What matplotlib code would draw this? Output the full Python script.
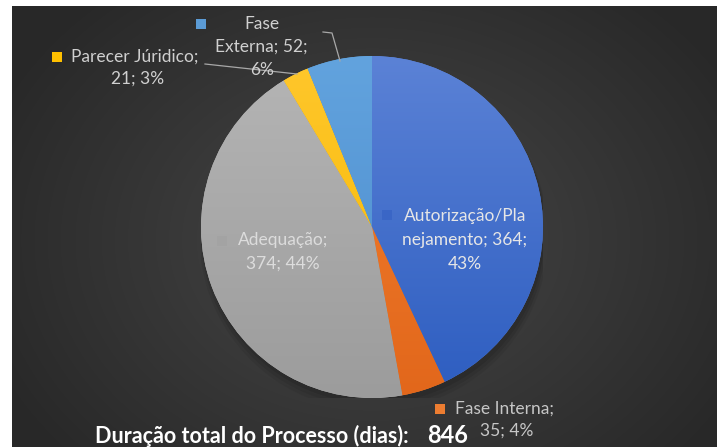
import numpy as np
import matplotlib.pyplot as plt
from matplotlib.colors import LinearSegmentedColormap
from matplotlib.patches import Rectangle, Circle

plt.rcParams['font.family'] = ['Lato', 'DejaVu Sans']

# dados do gráfico (dias por etapa)
etapas = ['Autorização/Planejamento', 'Fase Interna', 'Adequação',
          'Parecer Júridico', 'Fase Externa']
dias = [364, 35, 374, 21, 52]
percentuais = [43, 4, 44, 3, 6]   # como aparecem nos rótulos
cores_topo = ['#5B82D6', '#F27F30', '#B5B5B5', '#FFC72C', '#62A3DE']
cores_base = ['#2D5DC0', '#E2671B', '#9C9C9C', '#F5B800', '#4A8ACB']
total = sum(dias)

W, H = 717, 447
fig = plt.figure(figsize=(W / 100, H / 100), dpi=100)
fig.patch.set_facecolor('white')

# fundo escuro com degradê radial
bg = fig.add_axes([0, 0, 1, 1])
bg.set_xlim(0, W)
bg.set_ylim(H, 0)
bg.axis('off')
yy, xx = np.mgrid[6:H, 12:W]
r = np.sqrt(((xx - 372) / 420.0) ** 2 + ((yy - 240) / 330.0) ** 2)
grad = np.clip(1 - r, 0, 1)
cmap_bg = LinearSegmentedColormap.from_list('bg', ['#282828', '#474747'])
bg.imshow(grad, cmap=cmap_bg, extent=(12, W, H, 6), aspect='auto', zorder=0)

# pizza
cx, cy, rad = 372, 227, 171
ax = fig.add_axes([(cx - rad) / W, (H - cy - rad) / H, 2 * rad / W, 2 * rad / H])
ax.axis('off')

# sombra leve
for k, a in enumerate([0.10, 0.08, 0.06]):
    ax.add_patch(Circle((0.01, -0.03 - k * 0.012), 1.0 + k * 0.01,
                        color='black', alpha=a, lw=0, zorder=0))

wedges, _ = ax.pie(dias, startangle=90, counterclock=False, radius=1,
                   colors=cores_topo, wedgeprops=dict(linewidth=0))
gy = np.linspace(0, 1, 256).reshape(-1, 1)
for w, c1, c2 in zip(wedges, cores_topo, cores_base):
    cm = LinearSegmentedColormap.from_list('g', [c1, c2])
    im = ax.imshow(gy, cmap=cm, extent=(-1, 1, -1, 1), aspect='auto',
                   origin='upper', zorder=2)
    im.set_clip_path(w)
ax.set_xlim(-1, 1)
ax.set_ylim(-1, 1)

# rótulos e linhas guia (coordenadas em pixels)
ov = fig.add_axes([0, 0, 1, 1], facecolor='none')
ov.set_xlim(0, W)
ov.set_ylim(H, 0)
ov.axis('off')

fs = 12.5

def chave(x, y, cor):
    ov.add_patch(Rectangle((x - 5, y - 5), 10, 10, color=cor, lw=0))

def linha(x, y, s, cor, ha='center'):
    ov.text(x, y, s, ha=ha, va='center', color=cor, fontsize=fs)

# Autorização/Planejamento
chave(387, 215, '#3A66C6')
linha(465, 216, 'Autorização/Pla', '#E6E6E6')
linha(465, 240, f'nejamento; {dias[0]};', '#E6E6E6')
linha(465, 264, f'{percentuais[0]}%', '#E6E6E6')
# Adequação
chave(222, 241, '#A3A3A3')
linha(283, 240, 'Adequação;', '#DCDCDC')
linha(283, 264, f'{dias[2]}; {percentuais[2]}%', '#DCDCDC')
# Fase Interna
chave(440, 409, '#ED7D31')
linha(455, 409, 'Fase Interna;', '#C6C6C6', ha='left')
linha(480, 431, f'{dias[1]}; {percentuais[1]}%', '#C6C6C6', ha='left')
# Parecer Júridico
chave(57, 57, '#FFC000')
linha(71, 57, 'Parecer Júridico;', '#D0D0D0', ha='left')
linha(138, 79, f'{dias[3]}; {percentuais[3]}%', '#D0D0D0')
ov.plot([205, 297], [64, 74], color='#A8A8A8', lw=0.9)
# Fase Externa
chave(201, 24, '#5B9BD5')
linha(262, 24, 'Fase', '#D0D0D0')
linha(261, 47, f'Externa; {dias[4]};', '#D0D0D0')
linha(262, 70, f'{percentuais[4]}%', '#D0D0D0')
ov.plot([323, 332, 340], [32, 33, 61], color='#A8A8A8', lw=0.9)

# total
ov.text(95, 443, 'Duração total do Processo (dias):', ha='left', va='baseline',
        color='white', fontsize=15.5, fontweight='bold')
ov.text(427, 443, f'{total}', ha='left', va='baseline',
        color='white', fontsize=17, fontweight='bold')

fig.savefig('out.png', dpi=100)
